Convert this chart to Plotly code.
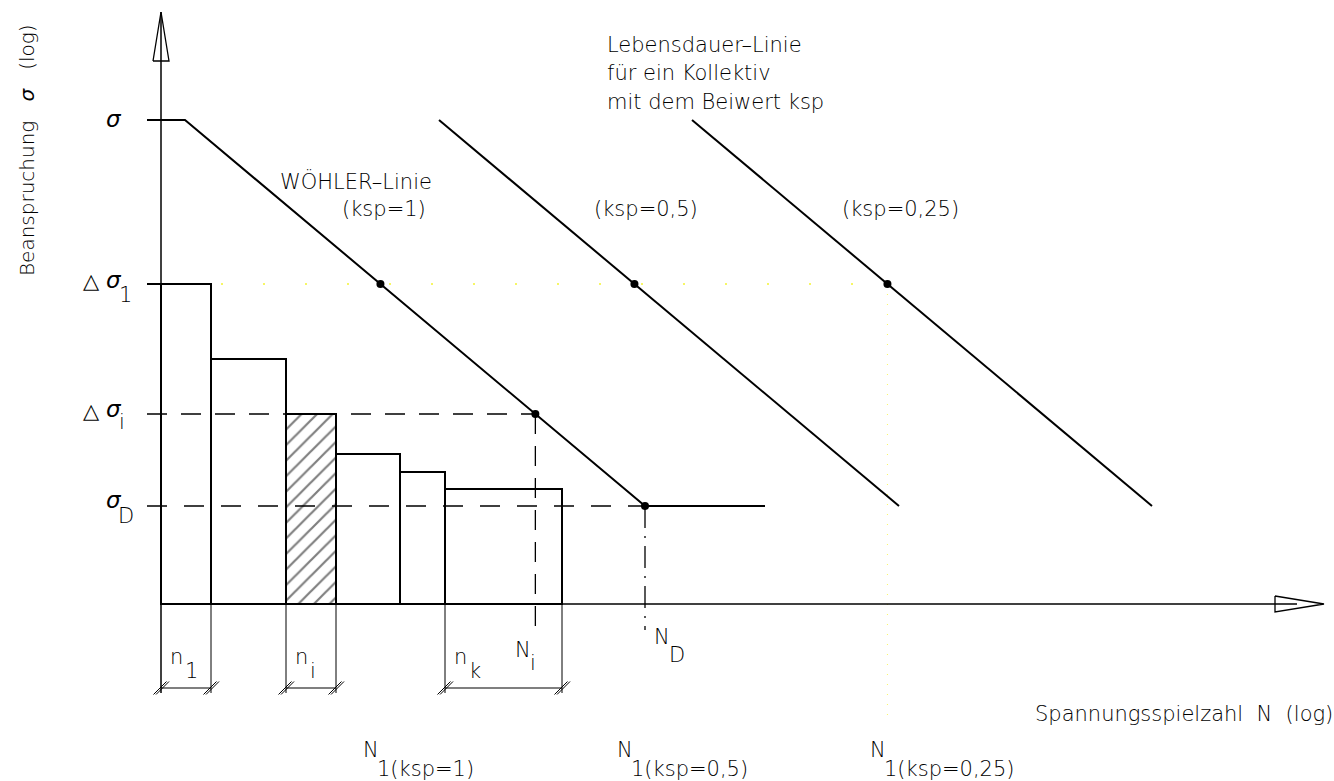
import plotly.graph_objects as go

# ---------------------------------------------------------------
# Values in diagram units (x: log N, y: log sigma)
# ---------------------------------------------------------------
bar_edges = [0.0, 5.0, 12.5, 17.5, 23.9, 28.4, 40.1]
bar_heights = [32.0, 24.5, 19.0, 15.0, 13.2, 11.5]
hatched_bar = 2

sigma_top = 48.4      # upper stress level
sigma_1 = 32.0        # largest block of the spectrum
sigma_i = 19.0        # block i
sigma_D = 9.8         # endurance limit

N_knee = 2.4          # start of the sloped branch
N_D = 48.4            # knee point of the Woehler line
N_end = 60.4          # end of the horizontal branch

ksp_labels = ["1", "0,5", "0,25"]
ksp_shift = [0.0, 25.4, 50.7]

# dimension chains under the spectrum
dims = [(0.0, 5.0, "n", "1"), (12.5, 17.5, "n", "i"), (28.4, 40.1, "n", "k")]

slope = (sigma_top - sigma_D) / (N_D - N_knee)


def n_at(s, shift=0.0):
    return N_knee + shift + (sigma_top - s) / slope


N_i = n_at(sigma_i)

fig = go.Figure()

BLACK = "black"
FONT = "DejaVu Sans"


def seg(xs, ys, width=1.5, dash="solid", color=BLACK, opacity=1.0):
    fig.add_trace(go.Scatter(x=xs, y=ys, mode="lines", opacity=opacity,
                             line=dict(color=color, width=width, dash=dash),
                             hoverinfo="skip", showlegend=False))


# load spectrum (stepped bars)
centers = [(a + b) / 2 for a, b in zip(bar_edges[:-1], bar_edges[1:])]
widths = [b - a for a, b in zip(bar_edges[:-1], bar_edges[1:])]
fig.add_trace(go.Bar(
    x=centers, y=bar_heights, width=widths, base=0,
    marker=dict(color="white", line=dict(color=BLACK, width=2),
                pattern=dict(shape=["/" if i == hatched_bar else "" for i in range(len(bar_heights))],
                             fgcolor=BLACK, bgcolor="white", size=11, solidity=0.2)),
    hoverinfo="skip", showlegend=False))

# faint construction lines
seg([6.0, n_at(sigma_1, ksp_shift[2])], [sigma_1, sigma_1], width=1.5,
    dash="2px,40px", color="#f2f200", opacity=0.8)
seg([n_at(sigma_1, ksp_shift[2])] * 2, [sigma_1, -11.6], width=1,
    dash="1px,9px", color="#f2f200", opacity=0.6)

# axes
seg([0, 0], [-8.9, 59.2], width=1.5)
seg([0, 113.6], [0, 0], width=1.5)
seg([-0.8, 0, 0.8, -0.8], [54.3, 59.2, 54.3, 54.3], width=1.3)
seg([111.4, 116.3, 111.4, 111.4], [0.8, 0, -0.8, 0.8], width=1.3)

# reference levels
seg([-1.4, 0], [sigma_1, sigma_1], width=2)
seg([-1.4, N_i], [sigma_i, sigma_i], width=1.5, dash="20px,14px")
seg([-1.4, N_D], [sigma_D, sigma_D], width=1.5, dash="20px,17px")
seg([N_i, N_i], [sigma_i, -2.6], width=1.3, dash="20px,12px")
seg([N_D, N_D], [sigma_D, -2.6], width=1.3, dash="22px,8px,2px,8px")

# Woehler line and life-time lines
seg([-1.4, N_knee, N_D, N_end], [sigma_top, sigma_top, sigma_D, sigma_D], width=2)
for sh in ksp_shift[1:]:
    seg([N_knee + sh, N_D + sh], [sigma_top, sigma_D], width=2)

# marked points
px = [n_at(sigma_1, sh) for sh in ksp_shift] + [N_i, N_D]
py = [sigma_1] * len(ksp_shift) + [sigma_i, sigma_D]
fig.add_trace(go.Scatter(x=px, y=py, mode="markers",
                         marker=dict(color=BLACK, size=8),
                         hoverinfo="skip", showlegend=False))

# extension and dimension lines
for a, b, _, _ in dims:
    for e in (a, b):
        if e != 0.0:
            seg([e, e], [0, -8.9], width=1)
    seg([a, b], [-8.4, -8.4], width=1.2)
    for e in (a, b):
        for off in (-0.1, 0.15):
            seg([e - 0.65 + off, e + 0.65 + off], [-8.4 - 0.65, -8.4 + 0.65], width=1)

ann = []


def lab(text, x, y, size=21, family=FONT, xanchor="left", angle=0, weight=300):
    ann.append(dict(text=text, x=x, y=y, xref="x", yref="y", showarrow=False,
                    xanchor=xanchor, yanchor="middle", textangle=angle,
                    font=dict(family=family, size=size, color=BLACK, weight=weight)))


SIG = "<i>σ</i>"

# axis titles
lab("Beanspruchung   " + SIG + "   (log)", -13.4, 45.4, size=20, xanchor="center", angle=-90)
lab("Spannungsspielzahl  N  (log)", 87.2, -11.0)

# stress levels on the ordinate
lab(SIG, -5.7, 48.5, size=23, weight=400)
lab("△", -8.0, 32.3, size=21, weight=400)
lab(SIG, -5.7, 32.4, size=23, weight=400)
lab("1", -4.4, 30.9)
lab("△", -8.0, 19.3, size=21, weight=400)
lab(SIG, -5.7, 19.5, size=23, weight=400)
lab("i", -4.4, 18.2)
lab(SIG, -5.7, 10.4, size=23, weight=400)
lab("D", -4.5, 8.8)

# curve labels
lab("WÖHLER–Linie", 11.7, 42.3)
lab("(ksp=" + ksp_labels[0] + ")", 17.9, 39.5)
lab("(ksp=" + ksp_labels[1] + ")", 43.1, 39.5)
lab("(ksp=" + ksp_labels[2] + ")", 67.9, 39.5)
lab("Lebensdauer–Linie", 44.4, 55.9)
lab("für ein Kollektiv", 44.4, 53.1)
lab("mit dem Beiwert ksp", 44.4, 50.2)

# block counts
for a, b, main, sub in dims:
    lab(main, a + 0.7, -5.3)
    lab(sub, a + 2.2, -6.7)

lab("N", 35.2, -4.6)
lab("i", 36.7, -5.9)
lab("N", 49.1, -3.3)
lab("D", 50.6, -5.1)

# cycle numbers where the curves reach sigma_1
for i, sh in enumerate(ksp_shift):
    x0 = n_at(sigma_1, sh) - 1.9
    lab("N", x0, -14.6)
    lab("1(ksp=" + ksp_labels[i] + ")", x0 + 1.4, -16.5)

fig.update_layout(
    width=1334, height=781,
    margin=dict(l=0, r=0, t=0, b=0),
    paper_bgcolor="white", plot_bgcolor="white",
    xaxis=dict(range=[-16.1, 117.3], visible=False, fixedrange=True),
    yaxis=dict(range=[-17.7, 60.4], visible=False, fixedrange=True),
    annotations=ann,
    bargap=0,
)

fig.write_html("out.html")
